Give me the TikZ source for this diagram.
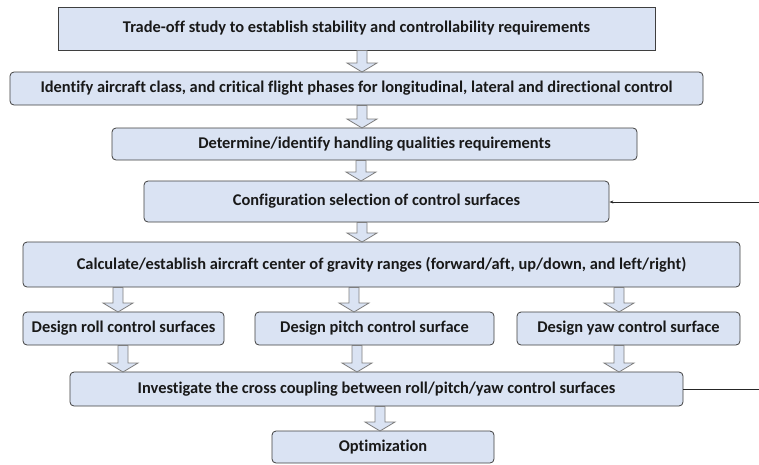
\documentclass[tikz,border=0pt]{standalone}
\usepackage{fontspec}
\setmainfont{Carlito}[Ligatures=NoCommon]
\usetikzlibrary{arrows.meta}
\definecolor{boxfill}{HTML}{DAE3F3}
\definecolor{boxline}{HTML}{3F3F3F}
\definecolor{arrline}{HTML}{7F7F7F}
\tikzset{
  base/.style={draw=boxline, line width=0.8pt, fill=boxfill, inner sep=0pt,
    font=\bfseries\fontsize{16.4}{19}\selectfont, text=black!90, align=center},
  rbox/.style={base, rounded corners=4pt},
  sbox/.style={base},
  barrow/.style={draw=arrline, line width=0.8pt, fill=boxfill},
  thin line/.style={draw=black!85, line width=0.8pt},
}
% block arrow: #1 x, #2 top y, #3 bottom y
\newcommand{\blockarr}[3]{%
  \path[barrow] (#1-5,#2) -- (#1+5,#2) -- (#1+5,#3-9) -- (#1+15,#3-9) -- (#1,#3) -- (#1-15,#3-9) -- (#1-5,#3-9) -- cycle;}
\begin{document}
\begin{tikzpicture}[x=1pt,y=-1pt]
\useasboundingbox (0,0) rectangle (759,464);
\node[sbox, minimum width=597, minimum height=43] (b1) at (356.5,28.5) {Trade-off study to establish stability and controllability requirements};
\node[rbox, minimum width=693, minimum height=33] (b2) at (356.5,88.5) {Identify aircraft class, and critical flight phases for longitudinal, lateral and directional control};
\node[rbox, minimum width=525, minimum height=32] (b3) at (374.5,144) {Determine/identify handling qualities requirements};
\node[rbox, minimum width=465, minimum height=41] (b4) at (376.5,201.5) {Configuration selection of control surfaces};
\node[rbox, minimum width=717, minimum height=45] (b5) at (381.5,264.5) {Calculate/establish aircraft center of gravity ranges (forward/aft, up/down, and left/right)};
\node[rbox, minimum width=201, minimum height=33] (roll) at (123.5,328.5) {Design roll control surfaces};
\node[rbox, minimum width=239, minimum height=33] (pitch) at (374.5,328.5) {Design pitch control surface};
\node[rbox, minimum width=223, minimum height=33] (yaw) at (628.5,328.5) {Design yaw control surface};
\node[rbox, minimum width=613, minimum height=34] (b7) at (376.5,389) {Investigate the cross coupling between roll/pitch/yaw control surfaces};
\node[rbox, minimum width=222, minimum height=32] (opt) at (383,447) {Optimization};
% block arrows
\blockarr{362}{50.5}{72}
\blockarr{362}{105.5}{128}
\blockarr{361}{160.5}{181}
\blockarr{362}{222.5}{242}
\blockarr{118}{287.5}{312}
\blockarr{354}{287.5}{312}
\blockarr{619}{287.5}{312}
\blockarr{123}{345.5}{372}
\blockarr{357}{345.5}{372}
\blockarr{619}{345.5}{372}
\blockarr{380}{406.5}{431}
% feedback lines
\coordinate (fbout) at (759,389);
\coordinate (fbin) at (759,202);
\draw[thin line] (b7.east) -- (fbout);
\draw[thin line, -{Stealth[length=4pt,width=3pt]}] (fbin) -- (b4.east |- fbin);
\end{tikzpicture}
\end{document}
